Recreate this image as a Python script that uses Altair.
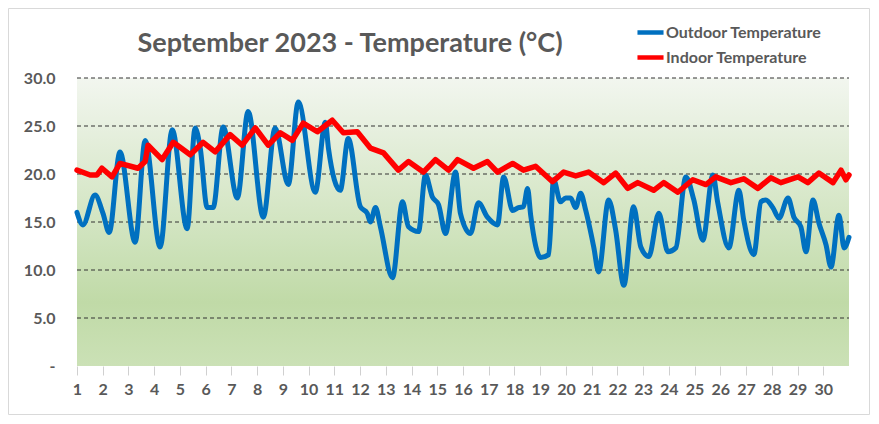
import altair as alt
import pandas as pd

# ---- data ----
blue_day = [1.00, 1.23, 1.70, 2.01, 2.25, 2.67, 3.26, 3.65, 4.23, 4.70, 5.28, 5.59, 5.79, 6.06, 6.29,
            6.68, 7.23, 7.65, 8.24, 8.70, 9.21, 9.60, 10.26, 10.65, 10.77, 11.23, 11.54, 12.01, 12.28,
            12.40, 12.60, 12.79, 13.26, 13.65, 13.88, 14.27, 14.54, 14.81, 15.05, 15.32, 15.71, 15.90,
            16.29, 16.60, 16.95, 17.34, 17.58, 17.93, 18.16, 18.35, 18.51, 18.63, 19.02, 19.33, 19.52,
            19.79, 19.99, 20.18, 20.38, 20.57, 20.77, 21.08, 21.27, 21.66, 21.93, 22.25, 22.63, 22.91,
            23.22, 23.61, 23.96, 24.27, 24.66, 24.97, 25.32, 25.71, 25.90, 26.33, 26.72, 26.91, 27.30,
            27.58, 27.77, 28.04, 28.28, 28.63, 28.86, 29.13, 29.33, 29.60, 29.83, 30.11, 30.30, 30.61,
            30.81, 31.00]
blue_temp = [16.0, 14.7, 17.8, 15.9, 13.9, 22.3, 12.9, 23.5, 12.4, 24.6, 14.3, 24.8, 22.7, 16.5, 16.5,
             24.9, 17.5, 26.5, 15.5, 24.8, 18.9, 27.5, 18.1, 25.4, 22.7, 18.3, 23.7, 16.6, 15.9,
             15.0, 16.5, 14.5, 9.2, 17.1, 14.5, 14.0, 19.9, 17.6, 16.8, 13.8, 20.2, 15.9,
             13.8, 17.0, 15.5, 14.7, 19.7, 16.2, 16.5, 16.6, 18.5, 15.7, 11.3, 11.6, 19.4,
             17.1, 17.5, 17.5, 16.5, 18.0, 16.2, 12.4, 9.8, 17.3, 14.2, 8.4, 16.6, 12.4,
             11.4, 15.9, 11.9, 12.3, 19.7, 17.3, 13.1, 19.9, 17.0, 12.3, 18.3, 15.2, 11.6,
             17.1, 17.3, 16.5, 15.4, 17.5, 15.5, 14.5, 11.9, 17.3, 14.9, 12.6, 10.3, 15.7,
             12.3, 13.4]

red_day = [1.00, 1.51, 1.78, 1.97, 2.36, 2.67, 3.37, 3.65, 3.76, 4.31, 4.74, 5.40, 5.90, 6.37, 6.95,
           7.42, 7.93, 8.43, 8.90, 9.37, 9.79, 10.34, 10.92, 11.35, 11.89, 12.40, 12.91, 13.49, 13.88,
           14.46, 14.93, 15.44, 15.79, 16.41, 16.95, 17.34, 17.93, 18.35, 18.82, 19.48, 19.91, 20.38,
           20.88, 21.47, 21.93, 22.40, 22.79, 23.41, 23.80, 24.35, 24.93, 25.44, 25.82, 26.41, 26.91,
           27.46, 27.96, 28.35, 29.02, 29.40, 29.83, 30.38, 30.69, 30.88, 31.00]
red_temp = [20.4, 19.9, 19.9, 20.6, 19.7, 21.1, 20.6, 21.3, 23.0, 21.5, 23.3, 22.0, 23.3, 22.3, 24.1,
            23.0, 24.8, 23.0, 24.3, 23.5, 25.3, 24.4, 25.6, 24.3, 24.4, 22.7, 22.2, 20.4, 21.3,
            20.2, 21.5, 20.4, 21.5, 20.6, 21.3, 20.2, 21.1, 20.4, 20.8, 19.2, 20.2, 19.8,
            20.2, 19.1, 20.1, 18.5, 19.1, 18.3, 19.1, 18.1, 19.4, 18.9, 19.7, 19.1, 19.5,
            18.5, 19.6, 19.1, 19.7, 19.1, 20.1, 19.1, 20.4, 19.4, 19.9]

series_names = ["Outdoor Temperature", "Indoor Temperature"]
series_colors = ["#0070C0", "#FF0000"]
day_ticks = list(range(1, 31))
temp_ticks = [0, 5, 10, 15, 20, 25, 30]
grid_vals = [5, 10, 15, 20, 25, 30]
title_text = "September 2023 - Temperature (°C)"

blue_df = pd.DataFrame({"day": blue_day, "temp": blue_temp, "series": series_names[0]})
red_df = pd.DataFrame({"day": red_day, "temp": red_temp, "series": series_names[1]})
grid_df = pd.DataFrame({"temp": grid_vals})

FONT = "Lato"
TXT = "#595959"
W, H = 772, 288

x_enc = alt.X("day:Q",
              scale=alt.Scale(domain=[1, 31], nice=False, zero=False),
              axis=alt.Axis(values=day_ticks, title=None, domain=False, grid=False,
                            ticks=True, tickColor="#d0d0d0", tickSize=9, tickWidth=1,
                            labelFont=FONT, labelFontSize=16, labelFontWeight="bold",
                            labelColor=TXT, labelPadding=6, labelFlush=False))
y_enc = alt.Y("temp:Q",
              scale=alt.Scale(domain=[0, 30], nice=False, zero=True),
              axis=alt.Axis(values=temp_ticks, title=None, domain=False, grid=False,
                            ticks=False, labelFont=FONT, labelFontSize=16,
                            labelFontWeight="bold", labelColor=TXT, labelPadding=22,
                            labelExpr="datum.value === 0 ? '-' : format(datum.value, '.1f')"))
color_enc = alt.Color("series:N",
                      scale=alt.Scale(domain=series_names, range=series_colors),
                      legend=alt.Legend(orient="none", legendX=558, legendY=-61, title=None,
                                        symbolType="stroke", symbolStrokeWidth=4.5,
                                        symbolSize=680, labelFont=FONT, labelFontSize=16,
                                        labelFontWeight="bold", labelColor=TXT,
                                        labelOffset=0, rowPadding=0))

one = alt.Data(values=[{}])

gradient = alt.LinearGradient(
    gradient="linear", x1=0, x2=0, y1=0, y2=1,
    stops=[alt.GradientStop(offset=0.0, color="#f2f6ef"),
           alt.GradientStop(offset=0.25, color="#e2edd8"),
           alt.GradientStop(offset=0.55, color="#cfe3bd"),
           alt.GradientStop(offset=0.78, color="#c0daa7"),
           alt.GradientStop(offset=1.0, color="#cbe1b6")])

bg = alt.Chart(one).mark_rect(fill=gradient, strokeWidth=0).encode(
    x=alt.value(0), x2=alt.value(W), y=alt.value(0), y2=alt.value(H))

border = alt.Chart(one).mark_rect(fill="transparent", stroke="#d9d9d9", strokeWidth=1).encode(
    x=alt.value(-68.5), x2=alt.value(W + 20.5), y=alt.value(-69.5), y2=alt.value(H + 48.5))

grid = alt.Chart(grid_df).mark_rule(color="#333333", strokeDash=[4, 3], strokeWidth=1).encode(
    y=y_enc, x=alt.value(0), x2=alt.value(W))

blue = alt.Chart(blue_df).mark_line(strokeWidth=5, strokeJoin="round", strokeCap="round",
                                    interpolate="monotone").encode(
    x=x_enc, y=y_enc, color=color_enc)
red = alt.Chart(red_df).mark_line(strokeWidth=5.5, strokeJoin="round", strokeCap="round").encode(
    x=x_enc, y=y_enc, color=color_enc)

title = alt.Chart(one).mark_text(text=title_text, font=FONT, fontSize=27, fontWeight="bold",
                                 color=TXT, align="center", baseline="middle").encode(
    x=alt.value(273), y=alt.value(-34))

chart = alt.layer(bg, border, grid, blue, red, title).properties(
    width=W, height=H,
    autosize=alt.AutoSizeParams(type="none"),
    padding={"left": 69, "top": 70, "right": 21, "bottom": 49},
    background="white",
).configure_view(stroke=None)

chart.save("out.html", embed_options={"renderer": "svg", "actions": False})
